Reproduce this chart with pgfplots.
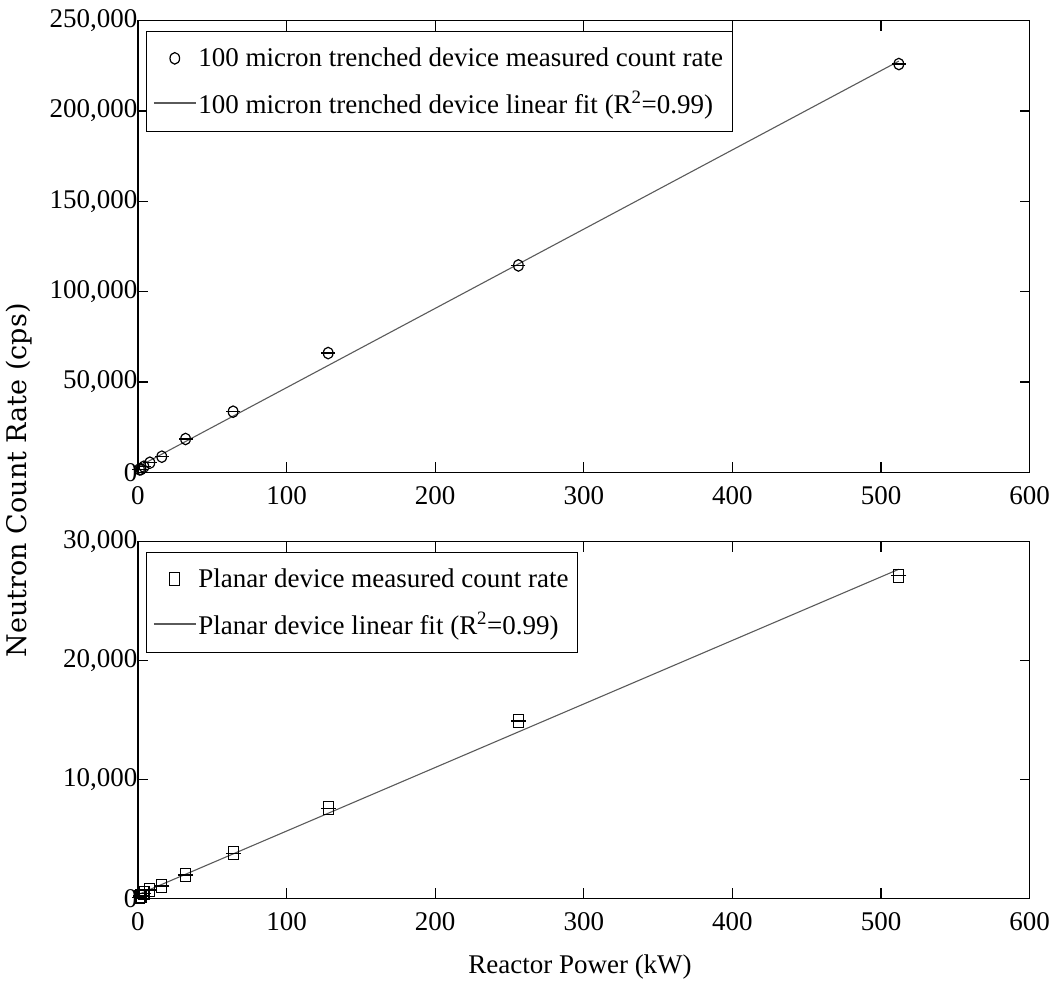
\documentclass[border=0pt]{standalone}
\usepackage{fontspec}
\setmainfont{Liberation Serif}
\newfontfamily\ylabfont{DejaVu Serif}
\usepackage{pgfplots}
\usepackage{pgfplotstable}
\pgfplotsset{compat=1.18}

\pgfplotstableread{
x y
1 1600
2 1700
4 3100
8 5300
16 8640
32 18440
64 33550
128 66000
256 114500
512 226000
}\trenched

\pgfplotstableread{
x y
1 100
2 200
4 420
8 700
16 1035
32 1960
64 3785
128 7570
256 14910
512 27130
}\planar

\definecolor{fitgray}{HTML}{5A5A5A}

\pgfplotsset{
  myaxis/.style={
    scale only axis,
    width=891.6pt,
    xmin=0, xmax=600,
    xtick={0,100,200,300,400,500,600},
    xticklabels={0,100,200,300,400,500,600},
    tick align=inside,
    major tick length=10pt,
    axis line style={line width=1.2pt},
    every tick/.style={black, line width=1.2pt},
    tick label style={font=\fontsize{27}{32}\selectfont},
    scaled y ticks=false,
    scaled x ticks=false,
    yticklabel style={xshift=3pt},
    xticklabel style={yshift=-11pt},
    legend style={at={(axis description cs:0,1)}, anchor=north west,
      xshift=7.7pt, yshift=-10pt, draw=black, line width=1.1pt,
      font=\fontsize{27}{32}\selectfont,
      inner xsep=7pt, inner ysep=15pt,
      nodes={inner sep=2pt},
      row sep=19pt},
    legend cell align=left,
  },
  markleg/.style={legend image code/.code={\path (0pt,0pt) (42pt,0pt); \draw[##1] plot coordinates {(21pt,0pt)};}},
  lineleg/.style={legend image code/.code={\draw[##1] (0pt,0pt) -- (42pt,0pt);}},
}

\begin{document}
\begin{tikzpicture}
\begin{axis}[myaxis, name=top, at={(0pt,426pt)}, anchor=south west,
  height=451.6pt, ymin=0, ymax=250000,
  ytick={0,50000,100000,150000,200000,250000},
  yticklabels={0,{50,000},{100,000},{150,000},{200,000},{250,000}}]
\addplot[black, only marks, mark=o, mark size=4.8pt, mark options={yscale=1.2, line width=1.2pt}, markleg] table {\trenched};
\addlegendentry{100 micron trenched device measured count rate}
\addplot[forget plot, black, only marks, mark=-, mark size=7pt, mark options={line width=1.2pt}] table {\trenched};
\addplot[fitgray, line width=1.1pt, lineleg] coordinates {(1,3440) (512,227620)};
\addlegendentry{100 micron trenched device linear fit (R\textsuperscript{2}=0.99)}
\end{axis}

\begin{axis}[myaxis, name=bot, at={(0pt,0pt)}, anchor=south west,
  height=356.6pt, ymin=0, ymax=30000,
  ytick={0,10000,20000,30000},
  yticklabels={0,{10,000},{20,000},{30,000}}]
\addplot[black, only marks, mark=square, mark size=5pt, mark options={yscale=1.3, line width=1.2pt}, markleg] table {\planar};
\addlegendentry{Planar device measured count rate}
\addplot[forget plot, black, only marks, mark=-, mark size=7.5pt, mark options={line width=1.2pt}] table {\planar};
\addplot[fitgray, line width=1.1pt, lineleg] coordinates {(1,365) (512,27684)};
\addlegendentry{Planar device linear fit (R\textsuperscript{2}=0.99)}
\end{axis}

\node[anchor=base, font=\fontsize{27}{32}\selectfont, inner sep=0pt] at (442pt,-75.5pt) {Reactor Power (kW)};
\node[rotate=90, anchor=north, font=\ylabfont\fontsize{27}{32}\selectfont, inner sep=0pt] at (-132pt,418pt) {Neutron Count Rate (cps)};

\pgfresetboundingbox
\useasboundingbox (-138pt,-81.7pt) rectangle (916pt,898.3pt);
\end{tikzpicture}
\end{document}
